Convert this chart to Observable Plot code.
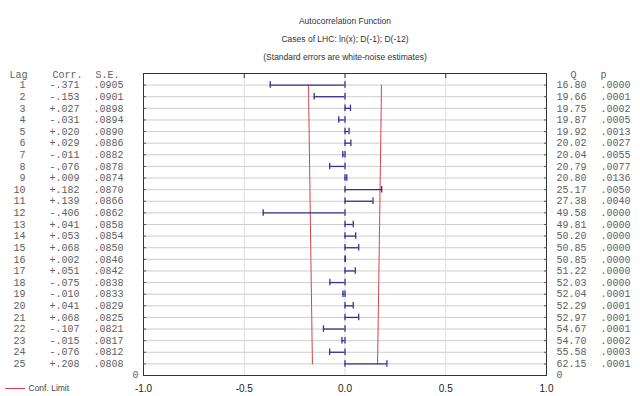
<!DOCTYPE html>
<html>
<head>
<meta charset="utf-8">
<script src="https://cdn.jsdelivr.net/npm/d3@7"></script>
<script src="https://cdn.jsdelivr.net/npm/@observablehq/plot@0.6"></script>
<style>
  html, body { margin: 0; padding: 0; background: #fff; }
  svg { display: block; }
</style>
</head>
<body>
<div id="chart"></div>
<script>
const titleLines = ["Autocorrelation Function", "Cases of LHC: ln(x); D(-1); D(-12)", "(Standard errors are white-noise estimates)"];
const lags = [1,2,3,4,5,6,7,8,9,10,11,12,13,14,15,16,17,18,19,20,21,22,23,24,25];
const corr = [-0.371,-0.153,0.027,-0.031,0.020,0.029,-0.011,-0.076,0.009,0.182,0.139,-0.406,0.041,0.053,0.068,0.002,0.051,-0.075,-0.010,0.041,0.068,-0.107,-0.015,-0.076,0.208];
const se = [0.0905,0.0901,0.0898,0.0894,0.0890,0.0886,0.0882,0.0878,0.0874,0.0870,0.0866,0.0862,0.0858,0.0854,0.0850,0.0846,0.0842,0.0838,0.0833,0.0829,0.0825,0.0821,0.0817,0.0812,0.0808];
const qStat = [16.80,19.66,19.75,19.87,19.92,20.02,20.04,20.79,20.80,25.17,27.38,49.58,49.81,50.20,50.85,50.85,51.22,52.03,52.04,52.29,52.97,54.67,54.70,55.58,62.15];
const pVal = [0.0000,0.0001,0.0002,0.0005,0.0013,0.0027,0.0055,0.0077,0.0136,0.0050,0.0040,0.0000,0.0000,0.0000,0.0000,0.0000,0.0000,0.0000,0.0001,0.0001,0.0001,0.0001,0.0002,0.0003,0.0001];
const xTicks = [-1, -0.5, 0, 0.5, 1];
const legendLabel = "Conf. Limit";

const rows = lags.map((lag, i) => ({lag, corr: corr[i], se: se[i], q: qStat[i], p: pVal[i]}));
const fmtCorr = v => (v < 0 ? "-" : "+") + Math.abs(v).toFixed(3).slice(1);
const fmtDec4 = v => v.toFixed(4).slice(1);
const noLabel = () => "";

const mono = "Liberation Mono, DejaVu Sans Mono, monospace";
const fs = 10;
const tableColor = "#606060";
const barColor = "#34348f";
const confColor = "#d9424a";

const chart = Plot.plot({
  width: 640,
  height: 396,
  marginLeft: 143,
  marginRight: 94,
  marginTop: 73,
  marginBottom: 21,
  style: {fontFamily: "Liberation Sans, Arial, sans-serif", background: "#fff"},
  x: {domain: [-1, 1]},
  y: {domain: [0, 26], reverse: true},
  marks: [
    Plot.gridY(lags, {stroke: "#cccccc", strokeOpacity: 1}),
    Plot.gridX([-0.5, 0, 0.5], {stroke: "#dddddd", strokeOpacity: 1}),
    Plot.line(rows, {x: d => -2 * d.se, y: "lag", stroke: confColor, strokeWidth: 1}),
    Plot.line(rows, {x: d => 2 * d.se, y: "lag", stroke: confColor, strokeWidth: 1}),
    Plot.ruleY(rows, {y: "lag", x1: 0, x2: "corr", stroke: barColor, strokeWidth: 1.3}),
    Plot.ruleX(rows, {x: "corr", y1: d => d.lag - 0.28, y2: d => d.lag + 0.28, stroke: barColor, strokeWidth: 1.3}),
    Plot.ruleX(rows, {x: 0, y1: d => d.lag - 0.28, y2: d => d.lag + 0.28, stroke: barColor, strokeWidth: 1.3}),
    Plot.frame({stroke: "#333", strokeWidth: 1}),
    Plot.axisX(xTicks, {anchor: "bottom", tickSize: 0, tickPadding: 9, fontSize: 10, fill: "#222", tickFormat: d => d.toFixed(1), label: null}),
    Plot.axisX([-0.5, 0, 0.5], {anchor: "top", tickSize: -4, tickFormat: noLabel, label: null, stroke: "#333"}),
    Plot.axisY(lags, {anchor: "left", tickSize: -3, tickFormat: noLabel, label: null, stroke: "#555"}),
    Plot.axisY(lags, {anchor: "right", tickSize: -3, tickFormat: noLabel, label: null, stroke: "#555"}),
    // titles
    Plot.text([titleLines[0]], {frameAnchor: "top", dy: -56, fontSize: 8.5, fill: "#333"}),
    Plot.text([titleLines[1]], {frameAnchor: "top", dy: -38, fontSize: 8.5, fill: "#333"}),
    Plot.text([titleLines[2]], {frameAnchor: "top", dy: -20, fontSize: 8.5, fill: "#333"}),
    // left table header
    Plot.text(["Lag"], {frameAnchor: "top-left", dx: -134, dy: -3, textAnchor: "start", fontFamily: mono, fontSize: fs, fill: tableColor}),
    Plot.text(["Corr."], {frameAnchor: "top-left", dx: -91, dy: -3, textAnchor: "start", fontFamily: mono, fontSize: fs, fill: tableColor}),
    Plot.text(["S.E."], {frameAnchor: "top-left", dx: -48, dy: -3, textAnchor: "start", fontFamily: mono, fontSize: fs, fill: tableColor}),
    // left table body
    Plot.text(rows, {y: "lag", text: d => String(d.lag), frameAnchor: "left", dx: -118, textAnchor: "end", fontFamily: mono, fontSize: fs, fill: tableColor}),
    Plot.text(rows, {y: "lag", text: d => fmtCorr(d.corr), frameAnchor: "left", dx: -94, textAnchor: "start", fontFamily: mono, fontSize: fs, fill: tableColor}),
    Plot.text(rows, {y: "lag", text: d => fmtDec4(d.se), frameAnchor: "left", dx: -50, textAnchor: "start", fontFamily: mono, fontSize: fs, fill: tableColor}),
    Plot.text(["0"], {frameAnchor: "bottom-left", dx: -5, dy: 2, textAnchor: "end", fontFamily: mono, fontSize: fs, fill: tableColor}),
    // right table header
    Plot.text(["Q"], {frameAnchor: "top-right", dx: 27, dy: -3, textAnchor: "middle", fontFamily: mono, fontSize: fs, fill: tableColor}),
    Plot.text(["p"], {frameAnchor: "top-right", dx: 57, dy: -3, textAnchor: "middle", fontFamily: mono, fontSize: fs, fill: tableColor}),
    // right table body
    Plot.text(rows, {y: "lag", text: d => d.q.toFixed(2), frameAnchor: "right", dx: 10, textAnchor: "start", fontFamily: mono, fontSize: fs, fill: tableColor}),
    Plot.text(rows, {y: "lag", text: d => fmtDec4(d.p), frameAnchor: "right", dx: 54, textAnchor: "start", fontFamily: mono, fontSize: fs, fill: tableColor}),
    Plot.text(["0"], {frameAnchor: "bottom-right", dx: 10, dy: 2, textAnchor: "start", fontFamily: mono, fontSize: fs, fill: tableColor}),
    // legend
    Plot.text([legendLabel], {frameAnchor: "bottom-left", dx: -115, dy: 15, textAnchor: "start", fontSize: 8.5, fill: "#444"})
  ]
});

document.getElementById("chart").appendChild(chart);
// legend swatch line next to the legend text
const svg = d3.select(chart);
const legendNode = svg.selectAll("text").filter(function() { return this.textContent === legendLabel; }).node();
const bb = legendNode.getBBox();
const ctm = legendNode.getCTM();
const ly = Math.round(bb.y + ctm.f + bb.height / 2) + 0.5;
const lx = Math.round(bb.x + ctm.e);
svg.append("line")
  .attr("x1", lx - 24).attr("x2", lx - 4)
  .attr("y1", ly).attr("y2", ly)
  .style("stroke", confColor).style("stroke-width", "1px");
</script>
</body>
</html>
